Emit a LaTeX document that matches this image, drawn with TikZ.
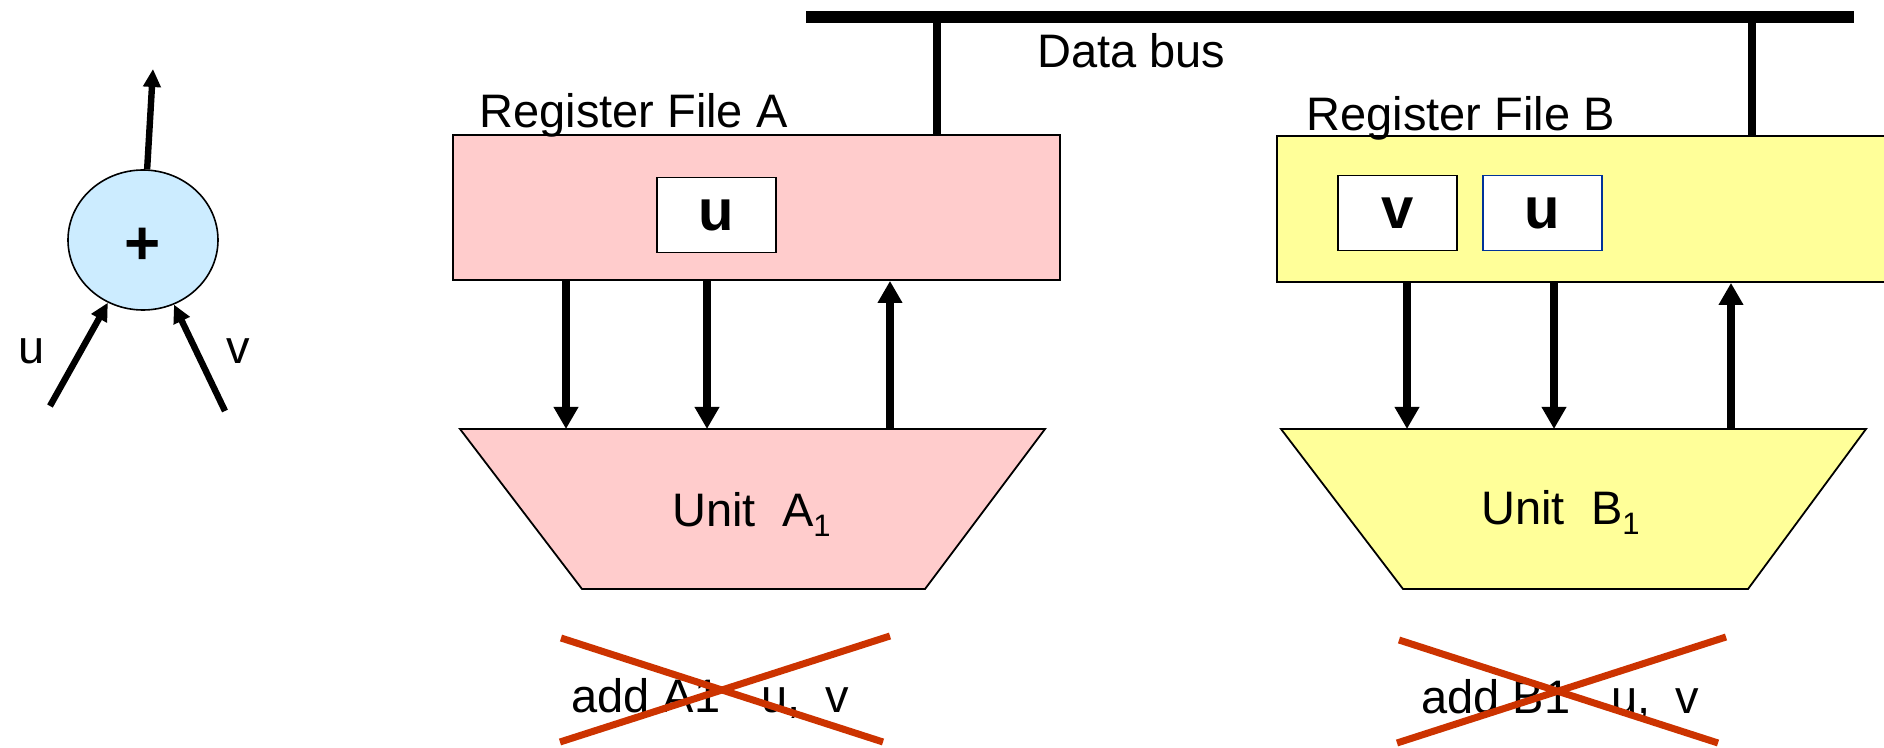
\documentclass[tikz,border=0pt]{standalone}
\usepackage{fontspec}
\setmainfont{Liberation Sans}
\usetikzlibrary{arrows.meta,shapes.geometric}
\definecolor{regpink}{HTML}{FFCCCC}
\definecolor{regyellow}{HTML}{FFFF99}
\definecolor{opblue}{HTML}{CCECFF}
\definecolor{crossred}{HTML}{CC3300}
\definecolor{cellblue}{HTML}{003399}

\begin{document}
\begin{tikzpicture}[x=0.5pt,y=-0.5pt,
  every node/.style={font=\fontsize{23.5}{28}\selectfont, inner sep=0pt},
  regfile/.style={draw, line width=0.9pt, minimum height=72.5pt},
  regcell/.style={draw, fill=white, line width=0.9pt, minimum width=59.5pt,
    minimum height=37.5pt, font=\bfseries\fontsize{29}{30}\selectfont},
  unitbox/.style={draw, line width=0.9pt, line join=miter},
  dataarrow/.style={line width=3.9pt, -{Triangle[length=11pt,width=11.7pt]}},
  oparrow/.style={line width=3.2pt, -{Triangle[length=9pt,width=8.5pt]}},
  busline/.style={line width=5.8pt},
  busdrop/.style={line width=4.2pt},
  crossout/.style={line width=3.5pt, draw=crossred}
]
\useasboundingbox (0,0) rectangle (1884,748);
\clip (0,0) rectangle (1884,748);

% ---- the operation: u + v ----
\node[ellipse, draw, fill=opblue, line width=0.8pt, minimum width=75pt,
  minimum height=70pt] (add) at (143,240) {};
\node[font=\bfseries\fontsize{31}{31}\selectfont] (plus) at (143,246) {+};
\coordinate (outTip) at (153,69);
\coordinate (uTail) at (50,406);
\coordinate (vTail) at (225,411);
\draw[oparrow] (add) -- (outTip);
\draw[oparrow] (uTail) -- (add);
\draw[oparrow] (vTail) -- (add);
\node (lu) at (32,351) {u};
\node (lv) at (238,351) {v};

% ---- data bus ----
\coordinate (busL) at (806,17);
\coordinate (busR) at (1854,17);
\coordinate (dropA) at (937,17);
\coordinate (dropB) at (1752,17);
\draw[busline] (busL) -- (busR);
\node[anchor=base west] (busLabel) at (1037,68) {Data bus};

% ---- register files ----
\node[regfile, fill=regpink, minimum width=303.5pt] (regA) at (756.5,207.5) {};
\node[regfile, fill=regyellow, minimum width=306.5pt, minimum height=73pt] (regB) at (1583.5,209) {};
\draw[busdrop] (dropA) -- (regA.north -| dropA);
\draw[busdrop] (dropB) -- (regB.north -| dropB);
\node[anchor=base west] (labA) at (479,128) {Register File A};
\node[anchor=base west] (labB) at (1306,131) {Register File B};

\node[regcell] (cellAu) at (716.5,215) {u};
\node[regcell] (cellBv) at (1397.5,213) {v};
\node[regcell, draw=cellblue] (cellBu) at (1542.5,213) {u};

% ---- functional units (trapezoids, wide side up) ----
\coordinate (uAtl) at (460,429);  \coordinate (uAtr) at (1045,429);
\coordinate (uAbr) at (925,589);  \coordinate (uAbl) at (582,589);
\coordinate (uBtl) at (1281,429); \coordinate (uBtr) at (1866,429);
\coordinate (uBbr) at (1748,589); \coordinate (uBbl) at (1403,589);
\draw[unitbox, fill=regpink] (uAtl) -- (uAtr) -- (uAbr) -- (uAbl) -- cycle;
\draw[unitbox, fill=regyellow] (uBtl) -- (uBtr) -- (uBbr) -- (uBbl) -- cycle;
\node[anchor=base west] (unitAtxt) at (672,526)
  {Unit\ \ A\raisebox{-5.3pt}{\fontsize{15.5}{16}\selectfont 1}};
\node[anchor=base west] (unitBtxt) at (1481,524)
  {Unit\ \ B\raisebox{-5.3pt}{\fontsize{15.5}{16}\selectfont 1}};

% ---- ports between register files and units ----
\coordinate (pA1) at (566,429);
\coordinate (pA2) at (707,429);
\coordinate (pA3) at (890,429);
\coordinate (pB1) at (1407,429);
\coordinate (pB2) at (1554,429);
\coordinate (pB3) at (1731,429);
\draw[dataarrow] (regA.south -| pA1) -- (pA1);
\draw[dataarrow] (regA.south -| pA2) -- (pA2);
\draw[dataarrow] (pA3) -- (regA.south -| pA3);
\draw[dataarrow] (regB.south -| pB1) -- (pB1);
\draw[dataarrow] (regB.south -| pB2) -- (pB2);
\draw[dataarrow] (pB3) -- (regB.south -| pB3);

% ---- rejected instructions ----
\node[anchor=base west] (instA) at (571,712) {add A1\hspace{0.87em}u,\hspace{0.53em}v};
\node[anchor=base west] (instB) at (1421,713) {add B1\hspace{0.87em}u,\hspace{0.53em}v};
\draw[crossout] (561,638) -- (883,742);
\draw[crossout] (560,742) -- (890,636);
\draw[crossout] (1399,640) -- (1718,743);
\draw[crossout] (1397,743) -- (1726,637);
\end{tikzpicture}
\end{document}
